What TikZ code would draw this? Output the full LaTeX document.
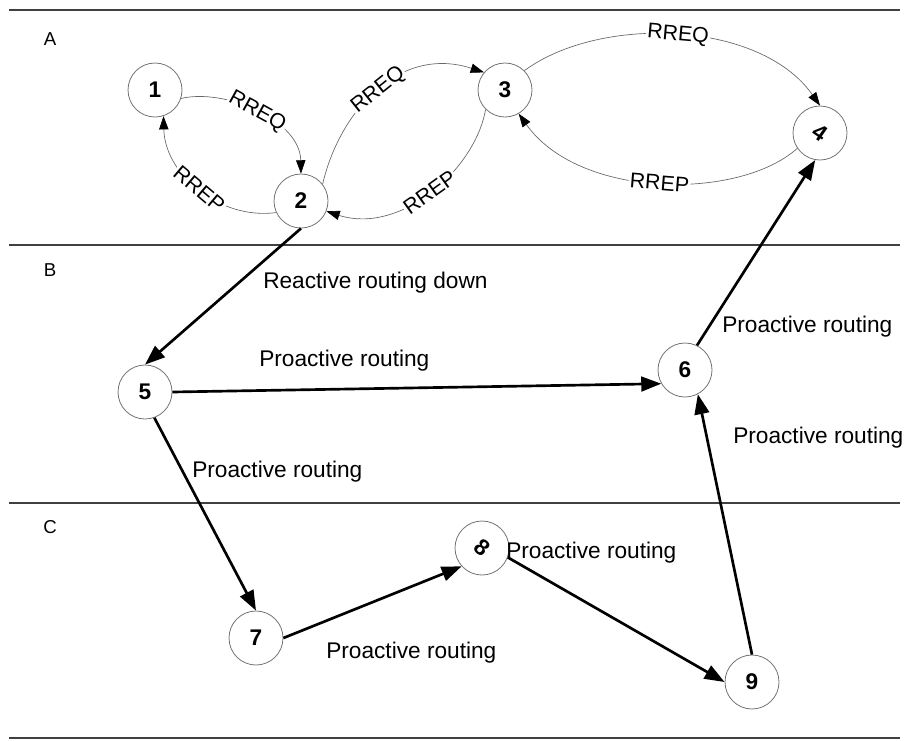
\documentclass[tikz,border=0pt]{standalone}
\usepackage{fontspec}
\setmainfont{Liberation Sans}
\usetikzlibrary{arrows.meta}

\begin{document}
\begin{tikzpicture}[x=0.75pt,y=-0.75pt,
  station/.style={circle,draw=black!55,line width=0.6pt,minimum size=40.5pt,inner sep=0pt,font=\fontsize{17}{20}\selectfont\bfseries},
  msg/.style={draw=black!60,line width=0.5pt,-{Triangle[length=10pt,width=7pt,fill=black,color=black]}},
  msglabel/.style={sloped,fill=white,inner sep=1pt,font=\fontsize{16}{19}\selectfont},
  route/.style={line width=2pt,-{Triangle[length=15pt,width=11pt]}},
  routelabel/.style={anchor=west,inner sep=0pt,font=\fontsize{17}{20}\selectfont},
  zone/.style={draw=black!75,line width=1.5pt},
  zonelabel/.style={inner sep=0pt,font=\fontsize{14}{17}\selectfont}]
\useasboundingbox (0,0) rectangle (906,740);

%Straight Lines (zones)
\draw[zone] (9,10) -- (900,10);
\draw[zone] (9,245) -- (900,245);
\draw[zone] (9,503) -- (900,503);
\draw[zone] (9,738) -- (900,738);

% Text Node
\node[zonelabel] (zoneA) at (50,39) {A};
% Text Node
\node[zonelabel] (zoneB) at (50,270) {B};
% Text Node
\node[zonelabel] (zoneC) at (50,527) {C};

%Nodes
\node[station] (n1) at (155,90) {1};
\node[station] (n2) at (301,201) {2};
\node[station] (n3) at (505,90) {3};
\node[station] (n4) at (820,133) {\rotatebox{-35}{4}};
\node[station] (n5) at (145,392) {5};
\node[station] (n6) at (685,370) {6};
\node[station] (n7) at (256,638) {7};
\node[station] (n8) at (482,548) {\rotatebox{-40}{8}};
\node[station] (n9) at (752,682) {9};

%Curve Lines (reactive, zone A)
\draw[msg] (n1.-18) .. controls (225,88) and (300,120) .. (n2.north) node[msglabel,pos=0.5] {RREQ};
\draw[msg] (n2.205) .. controls (220,220) and (165,175) .. (n1.-72) node[msglabel,pos=0.5] {RREP};
\draw[msg] (n2.38) .. controls (340,110) and (400,45) .. (n3.140) node[msglabel,pos=0.5] {RREQ};
\draw[msg] (n3.225) .. controls (475,170) and (400,235) .. (n2.-22) node[msglabel,pos=0.5] {RREP};
\draw[msg] (n3.45) .. controls (600,15) and (760,20) .. (n4.north) node[msglabel,pos=0.5] {RREQ};
\draw[msg] (n4.214) .. controls (740,200) and (580,200) .. (n3.-60) node[msglabel,pos=0.5] {RREP};

%Straight Lines (proactive)
\draw[route] (n2.south) -- (n5.north);
\draw[route] (n5.east) -- (n6.210);
\draw[route] (n5.-70) -- (n7.north);
\draw[route] (n7.east) -- (n8.222);
\draw[route] (n8.-20) -- (n9.west);
\draw[route] (n9.north) -- (n6.-62);
\draw[route] (n6.64) -- (n4.-100);

% Text Node
\node[routelabel] (t25) at (263,283) {Reactive routing down};
% Text Node
\node[routelabel] (t56) at (259,361) {Proactive routing};
% Text Node
\node[routelabel] (t57) at (192,472) {Proactive routing};
% Text Node
\node[routelabel] (t64) at (722,327) {Proactive routing};
% Text Node
\node[routelabel] (t96) at (733,438) {Proactive routing};
% Text Node
\node[routelabel] (t89) at (506,553) {Proactive routing};
% Text Node
\node[routelabel] (t78) at (326,653) {Proactive routing};

\end{tikzpicture}
\end{document}
